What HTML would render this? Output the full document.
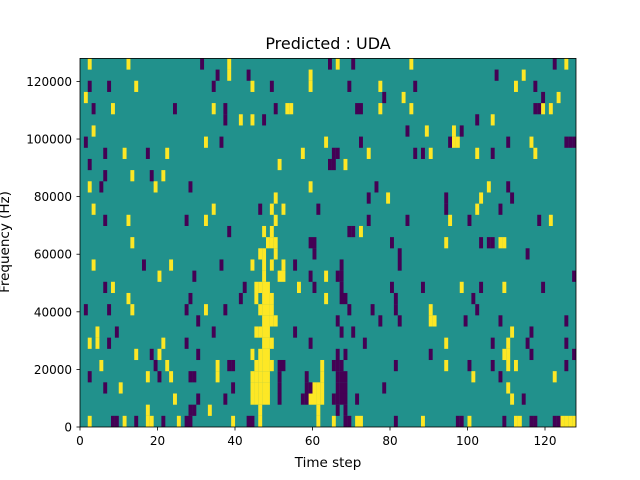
<!DOCTYPE html>
<html><head><meta charset="utf-8"><style>
html,body{margin:0;padding:0;background:#fff;width:640px;height:480px;overflow:hidden}
svg text{font-family:"DejaVu Sans","Liberation Sans",sans-serif;fill:#000}
</style></head><body>
<svg id="s" width="640" height="480" viewBox="0 0 640 480" xmlns="http://www.w3.org/2000/svg">
<rect x="80" y="58.4" width="496" height="368.6" fill="#21918c"/>
<g id="cells"></g>
<rect x="80" y="58.4" width="496" height="368.6" fill="none" stroke="#000" stroke-width="0.8"/>
<g id="ticks" stroke="#000" stroke-width="0.8"></g>
<text x="328" y="49" font-size="16" text-anchor="middle">Predicted : UDA</text>
<text x="328" y="467" font-size="13.5" text-anchor="middle">Time step</text>
<text transform="translate(9,242) rotate(-90)" font-size="13.5" text-anchor="middle">Frequency (Hz)</text>
<text x="80" y="445" font-size="12" text-anchor="middle">0</text>
<text x="157.5" y="445" font-size="12" text-anchor="middle">20</text>
<text x="235" y="445" font-size="12" text-anchor="middle">40</text>
<text x="312.5" y="445" font-size="12" text-anchor="middle">60</text>
<text x="390" y="445" font-size="12" text-anchor="middle">80</text>
<text x="467.5" y="445" font-size="12" text-anchor="middle">100</text>
<text x="545" y="445" font-size="12" text-anchor="middle">120</text>
<text x="72" y="431.5" font-size="12" text-anchor="end">0</text>
<text x="72" y="373.9" font-size="12" text-anchor="end">20000</text>
<text x="72" y="316.3" font-size="12" text-anchor="end">40000</text>
<text x="72" y="258.7" font-size="12" text-anchor="end">60000</text>
<text x="72" y="201.1" font-size="12" text-anchor="end">80000</text>
<text x="72" y="143.5" font-size="12" text-anchor="end">100000</text>
<text x="72" y="85.9" font-size="12" text-anchor="end">120000</text>
</svg>
<script>
var D={
32:"Y2 Y12 P31 Y38 P64 Y66 P70 Y85 P122 Y125",
31:"P35 Y38 P43 Y59 P107 Y114",
30:"P2 P7 Y14 P34 Y44 P49 Y59 P69 Y77 P86 Y112 P117",
29:"Y1 P78 Y83 P119 Y123",
28:"P3 Y8 P24 Y34 P37 P50 Y53 Y54 P71 P72 Y77 Y85 P117 P118 Y119 Y121",
27:"P37 Y41 Y44 P47 P102 Y106",
26:"Y3 P84 Y89 Y96 P98",
25:"P1 Y32 P36 Y63 P72 P95 Y96 Y97 P110 Y116 P125 P126 P127",
24:"P6 Y11 P17 Y22 Y57 P65 P66 Y74 P86 P88 Y90 Y102 P106 Y117",
23:"P2 Y51 P64 P65 Y68",
22:"P6 Y13 P18 Y21",
21:"Y2 P5 Y19 P28 Y59 P76 Y105 P110",
20:"Y50 P74 P94 Y103 P111 Y79",
19:"Y3 Y34 P46 Y49 Y52 P61 P94 Y102 P108",
18:"P6 Y12 P27 Y32 Y50 P74 P84 Y95 P100 P118 Y121",
17:"P38 Y47 Y49 P69 P70 Y72",
16:"Y13 Y48 Y49 Y50 P59 P60 P80 Y94 P103 P105 P106 Y108 Y109",
15:"Y46 Y47 Y50 P60 P82 P115",
14:"Y3 P16 Y23 P36 Y44 Y47 Y49 Y52 P55 P67 P82",
13:"Y20 P29 Y47 Y51 Y52 P59 Y63 P66 P67 P127",
12:"P6 Y8 P42 Y45 Y46 Y47 Y48 Y56 P60 P67 P80 P88 Y98 P103 Y109 P119",
11:"Y12 P28 P41 Y45 Y47 Y48 Y49 Y63 P67 P68 P81 P101",
10:"P1 P7 Y13 P27 Y32 P37 Y46 Y47 Y48 Y49 P69 P75 P81 Y90 P102",
9:"P30 Y47 Y48 Y49 Y50 P66 P77 P82 Y90 Y91 P99 P108 P125",
8:"Y4 P9 P34 Y45 Y46 Y47 Y48 P55 P67 P70 Y111 P116",
7:"Y2 Y4 P7 Y21 P27 Y47 Y48 Y49 P59 P73 Y94 P106 Y110 P115 P125",
6:"Y14 P18 Y20 P30 Y44 Y46 Y47 Y48 P66 P68 P90 Y109 Y110 P116 P127",
5:"Y5 P19 Y22 Y35 P38 P39 Y45 Y46 Y47 Y48 Y49 P51 P52 Y62 P65 P66 P67 P81 Y94 P100 P106 Y110 Y112 P125",
4:"P2 Y17 P20 Y23 P28 P29 Y35 Y44 Y45 Y46 Y47 Y48 P51 P58 Y62 P66 P67 P68 Y101 P108 Y122",
3:"P6 Y10 P39 Y44 Y45 Y46 Y47 Y48 P51 P58 P59 Y60 Y61 Y62 P66 P67 P68 P78 Y110",
2:"Y24 P30 P37 Y44 Y45 Y46 Y47 Y48 P51 P57 P58 Y59 Y60 Y61 Y62 P65 P66 P67 P68 P71 Y111 P114",
1:"Y17 P28 P29 Y33 Y46 Y61 P66 P68",
0:"Y2 P8 P9 Y11 P14 Y17 Y18 P21 Y25 P27 P28 Y39 P43 P44 Y46 Y61 Y65 P68 P69 Y71 Y72 P81 Y88 P97 P98 Y100 P109 Y112 Y113 P116 P117 P122 P123 Y124 Y125 Y126 Y127"
};
var g=document.getElementById('cells'),h=368.6/33,w=3.875,out="";
for(var r in D){D[r].split(" ").forEach(function(t){var c=+t.slice(1);var y=427-h*(+r+1);
out+='<rect x="'+(80+c*w).toFixed(2)+'" y="'+y.toFixed(2)+'" width="'+(w+0.05)+'" height="'+(h+0.05).toFixed(2)+'" fill="'+(t[0]=="Y"?"#fde725":"#440154")+'"/>';});}
g.innerHTML=out;
var tk="";
for(var i=0;i<=6;i++){var x=80+77.5*i;tk+='<line x1="'+x+'" y1="427" x2="'+x+'" y2="430.5"/>';}
for(var i=0;i<=6;i++){var y=427-i*20000/128000*368.6;tk+='<line x1="76.5" y1="'+y+'" x2="80" y2="'+y+'"/>';}
document.getElementById('ticks').innerHTML=tk;
</script>
</body></html>
